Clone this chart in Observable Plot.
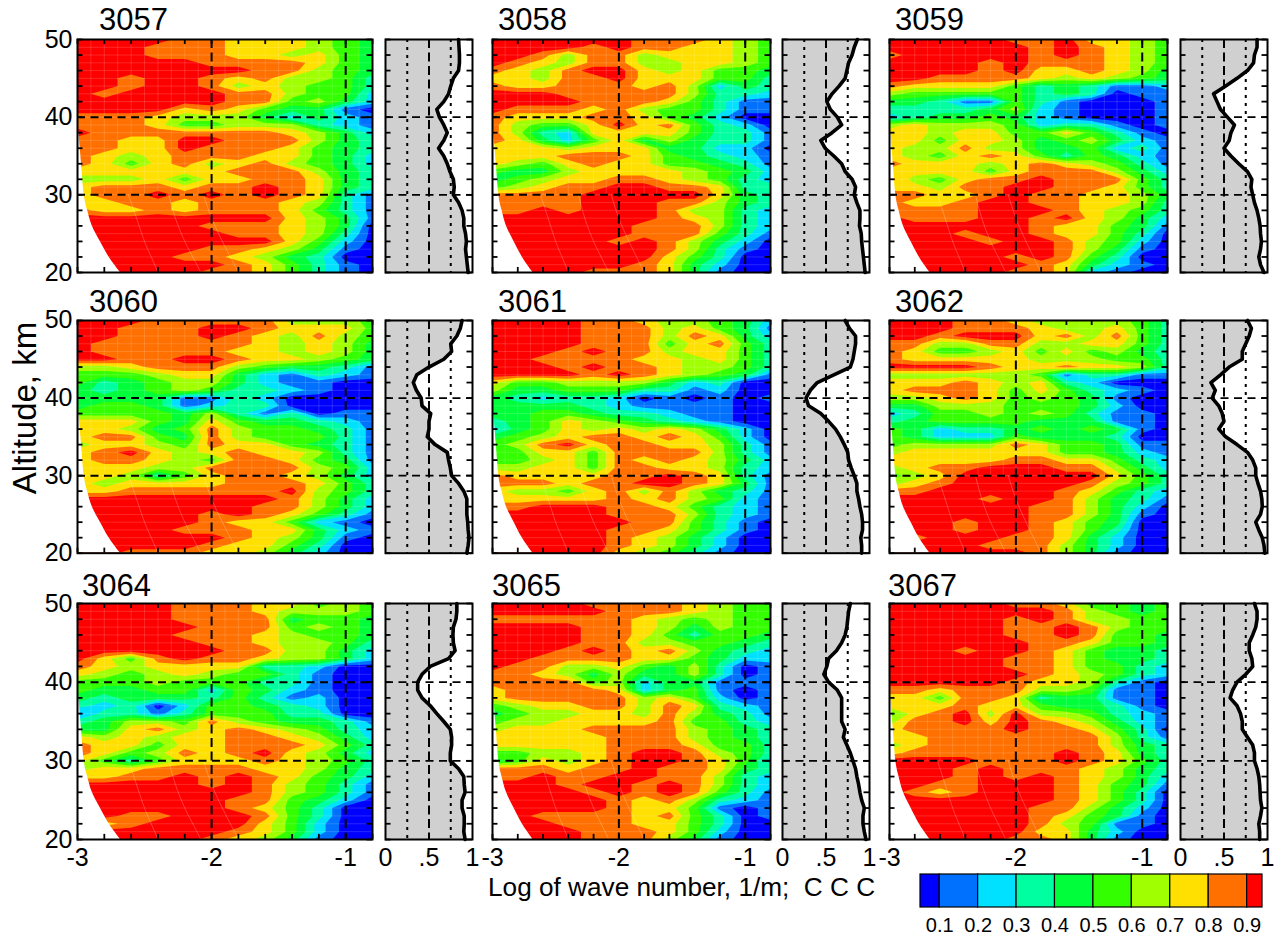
<!DOCTYPE html>
<html><head><meta charset="utf-8">
<script src="https://cdn.jsdelivr.net/npm/d3@7"></script>
<script src="https://cdn.jsdelivr.net/npm/@observablehq/plot@0.6"></script>
<style>
html,body{margin:0;padding:0;background:#fff;width:1276px;height:938px;overflow:hidden}
#root{position:relative;width:1276px;height:938px;font-family:"Liberation Sans",Arial,sans-serif;color:#000}
.box{position:absolute}
.title{position:absolute;font-size:31px;line-height:1;white-space:pre}
#ylab{position:absolute;font-size:33px;left:25px;top:408px;transform:translate(-50%,-50%) rotate(-90deg);white-space:pre}
#xlab{position:absolute;font-size:26.2px;left:488px;top:872px;white-space:pre}
</style></head><body><div id="root"></div>
<script>
// Band index per grid node (0 = below 0.1 ... 9 = above 0.9). Rows: 50 km down to 20 km, step 1.
// Columns: log wave number -3.0 ... -0.8, step 0.2.
const grid3057=["999988777654","999888777654","999888776754","999998888754","999999988654","998998786653","998998676553","989999886552","999999885642","999978754410","888766642421","888755666321","988888887642","887799888643","887798887543","876788877542","875786786542","777777888643","666757788743","788878898743","788989898731","778878887631","877878887531","999999997641","999998887640","999999887630","999999997520","999998876410","999988764300","999999875310","999998875310"];
const grid3058=["999999888765","999989887765","998688677765","987688667765","876899767554","776889777553","877888786243","999888886332","999988875311","988878655311","877788754200","865579785320","863277775331","874257464331","777677744220","777888754321","765787755431","544677776542","456778876532","567889988733","888899999743","888899988643","889899986632","999999987632","999999888632","999999888531","999998986420","999999986310","999999975300","999999874200","999988874100"];
const grid3059=["999998897765","999999898765","899999898765","999989888765","999989778764","998888767654","877775343112","655555343011","443115310001","333346210001","234454210001","676665233101","776775575310","775776456421","766866445231","765787535421","877767876531","777757888642","865788988853","776889988753","887789887764","877899887763","888899987653","988899897642","999999877541","999899877530","999989986520","999999986410","999998985300","999999874210","999998872100"];
const grid3060=["999888886665","998889987775","998889876865","988888876764","988888776764","998899877654","667888654431","555677421321","534566421100","434565332100","444411320000","455412330000","555546313011","777547544321","776458655431","788548655531","677658775431","789767877631","788765887541","777668888652","776357887642","767777888753","778888889653","999999998642","999999988642","999998987531","999998775210","999988877421","999999876410","999998775300","998887764200"];
const grid3061=["999988766542","999988867541","999988868742","999988857853","999898867753","998888776753","999898876653","999989876541","755666642300","644555331200","432332010101","444432111100","445543321100","345765432100","245767676420","456788787520","568978877631","557758888631","556758787642","667758877632","877778898731","888788998741","766578686431","777778786521","889998875321","999998886321","999999885310","999998875310","999998764200","999998764200","999997653100"];
const grid3062=["999887666653","999888766753","998999786853","886688667753","875567575643","877777666553","999987787763","666666513311","777876732000","788875753210","667875654100","446665554200","235565653110","345555444110","542334545410","542225444300","566668755411","677777755421","777778877532","678899988642","567999999753","678999998653","889999987532","999989986431","999999886420","999999886410","999899875400","999899875300","889998874200","999988864200","999999864100"];
const grid3064=["999988877565","999988876665","999988884554","999998885654","999988876554","999998876653","999999886642","975898876642","876777733200","765676553100","555655533100","544552542100","434443531200","323025543200","133135553300","346658654431","447867876532","767677887642","877577888753","875687897642","753577787653","677888877643","778898987542","999998986531","999999986531","999999885420","999999875300","998899985300","878999975200","999999875200","999998764100"];
const grid3065=["999988887655","999998887655","888888765655","999988764655","999988753554","999988665543","999898786432","998888775422","988667546301","887646446301","888856244111","788887245101","788888675201","567788687321","456677686431","566777785532","677788886543","777778886543","777778887553","556678998653","457678998752","888788988743","889889988632","999899898632","999989898531","999998786321","999998775101","998888785301","999888775300","999988875200","999988864100"];
const grid3067=["999998875545","999999986545","999998986655","999998898655","999998898554","999999887554","999899875443","999998875443","999998875532","999999876532","999998776310","887888665110","775887344110","777877544310","578969665321","688979876421","788889887530","778888888631","678888888643","788888898743","999988898753","999898887643","999898987642","998899987541","987899987530","999999987530","999999886420","999999875410","999999865110","999999774200","999998874100"];
const gridAltitudes=d3.range(50,19,-1);
const gridLogs=[-3,-2.8,-2.6,-2.4,-2.2,-2,-1.8,-1.6,-1.4,-1.2,-1,-0.8];

// Profile of the fraction (right-hand strips), 50 km down to 20 km, step 1.
const profileAltitudes=d3.range(50,19,-1);
const prof3057=[.84,.845,.85,.85,.84,.78,.75,.725,.67,.59,.62,.67,.71,.67,.61,.67,.71,.74,.78,.79,.78,.84,.88,.90,.90,.92,.93,.92,.93,.94,.95];
const prof3058=[.86,.825,.80,.76,.74,.72,.65,.57,.51,.55,.63,.68,.57,.44,.49,.59,.68,.72,.80,.84,.825,.855,.89,.89,.885,.905,.91,.92,.93,.94,.95];
const prof3059=[.88,.88,.85,.84,.77,.65,.52,.38,.42,.46,.54,.62,.58,.56,.50,.58,.67,.77,.82,.81,.83,.85,.88,.90,.915,.92,.93,.92,.90,.92,.96];
const prof3060=[.88,.86,.82,.75,.76,.67,.50,.36,.32,.355,.41,.42,.52,.50,.50,.48,.57,.71,.725,.745,.76,.84,.90,.935,.935,.935,.945,.95,.96,.95,.935];
const prof3061=[.72,.77,.84,.84,.825,.81,.78,.59,.40,.32,.27,.30,.44,.53,.61,.665,.71,.75,.76,.79,.825,.855,.855,.875,.89,.91,.92,.92,.90,.91,.91];
const prof3062=[.77,.815,.79,.75,.71,.71,.56,.46,.35,.40,.365,.44,.48,.50,.44,.52,.65,.77,.83,.865,.865,.89,.92,.935,.94,.92,.865,.90,.94,.96,.97];
const prof3064=[.82,.82,.81,.78,.775,.78,.80,.725,.515,.42,.37,.37,.42,.515,.59,.67,.745,.76,.76,.745,.745,.84,.90,.905,.915,.88,.88,.905,.905,.90,.915];
const prof3065=[.78,.76,.75,.74,.72,.68,.62,.53,.51,.475,.53,.63,.68,.68,.68,.68,.72,.70,.74,.78,.81,.84,.855,.875,.89,.91,.94,.925,.925,.94,.96];
const prof3067=[.85,.88,.88,.865,.83,.79,.79,.82,.83,.75,.65,.60,.57,.65,.69,.71,.71,.77,.83,.85,.85,.88,.90,.91,.915,.92,.935,.92,.90,.91,.91];

// White, no-data corner: left edge of the contours against altitude.
const edgeAltitudes=[20,22,24,26,28,30,34,38,40];
const edgeLogs=[-2.68,-2.765,-2.83,-2.89,-2.925,-2.95,-2.97,-2.99,-3];

// Faint curved grid seams below 30 km.
const arcAltitudes=[30,27,24,22,20];
const arcLogsA=[-2.62,-2.56,-2.5,-2.45,-2.4];
const arcLogsB=[-2.32,-2.27,-2.2,-2.14,-2.08];
const arcLogsC=[-2.06,-2,-1.92,-1.86,-1.8];

const bandColors=["#0000ff","#0070ff","#00e0ff","#00ffa0","#00ff3a","#33ff00","#a0ff00","#ffe000","#ff7000","#ff0000"];
const bandLimits=[.1,.2,.3,.4,.5,.6,.7,.8,.9];
const contourLevels=[0,.1,.2,.3,.4,.5,.6,.7,.8,.9];
const legendLow=[.05,.1,.2,.3,.4,.5,.6,.7,.8,.9];
const legendHigh=[.1,.2,.3,.4,.5,.6,.7,.8,.9,.94];

const logTicks=[-3,-2.8,-2.6,-2.4,-2.2,-2,-1.8,-1.6,-1.4,-1.2,-1,-0.8];
const altTicks=d3.range(20,51,2);
const seamAlts=d3.range(20,51,1);
const seamLogs=d3.range(-2.9,-0.8,0.1);

const panels=[
 {id:"3057",grid:grid3057,prof:prof3057,col:0,row:0,tx:99,ty:4},
 {id:"3058",grid:grid3058,prof:prof3058,col:1,row:0,tx:498,ty:4},
 {id:"3059",grid:grid3059,prof:prof3059,col:2,row:0,tx:895,ty:4},
 {id:"3060",grid:grid3060,prof:prof3060,col:0,row:1,tx:89,ty:286},
 {id:"3061",grid:grid3061,prof:prof3061,col:1,row:1,tx:498,ty:286},
 {id:"3062",grid:grid3062,prof:prof3062,col:2,row:1,tx:895,ty:286},
 {id:"3064",grid:grid3064,prof:prof3064,col:0,row:2,tx:82,ty:570},
 {id:"3065",grid:grid3065,prof:prof3065,col:1,row:2,tx:492,ty:570},
 {id:"3067",grid:grid3067,prof:prof3067,col:2,row:2,tx:888,ty:570}
];
const mainX=[[77,372],[492,770],[889,1167]];
const profX=[[385,472],[782,869],[1180,1267]];
const rowY=[[38.5,271.5],[320,552.7],[603.3,839.3]];
const M={left:45,right:8,top:6,bottom:42};
const FONT='"Liberation Sans",Arial,sans-serif';
const root=document.getElementById("root");
function place(svg,x0,y0){
  const d=document.createElement("div");d.className="box";
  d.style.left=(x0-M.left)+"px";d.style.top=(y0-M.top)+"px";
  d.appendChild(svg);root.appendChild(d);
}
const baseStyle={background:"transparent",overflow:"visible",fontFamily:FONT,maxWidth:"none"};
const noFmt=d=>String(d);

function framePlot(w,h,x,marks){
  return Plot.plot({width:w+M.left+M.right,height:h+M.top+M.bottom,
    marginLeft:M.left,marginRight:M.right,marginTop:M.top,marginBottom:M.bottom,
    style:baseStyle,x,y:{domain:[20,50],axis:null},
    color:{type:"threshold",domain:bandLimits,range:bandColors},marks});
}
// Inward ticks, as short rules along each edge of the frame.
const tickInk={stroke:"#000",strokeWidth:1.8};
function sideTicks(xLo,xHi,frac){
  const d=(xHi-xLo)*frac;
  return [Plot.ruleY(altTicks,{x1:()=>xLo,x2:()=>xLo+d,...tickInk}),
          Plot.ruleY(altTicks,{x1:()=>xHi-d,x2:()=>xHi,...tickInk})];
}
function edgeTicks(){
  return [Plot.ruleX(logTicks,{y1:()=>20,y2:()=>20.65,...tickInk}),
          Plot.ruleX(logTicks,{y1:()=>49.35,y2:()=>50,...tickInk})];
}
function arc(logs){
  return Plot.line(arcAltitudes,{x:(d,i)=>logs[i],y:d=>d,stroke:"#fff",strokeOpacity:.3,strokeWidth:.8,curve:"natural"});
}

for(const p of panels){
  const [x0,x1]=mainX[p.col],[y0,y1]=rowY[p.row];
  const values=p.grid.flatMap(r=>Array.from(r.padEnd(gridLogs.length,r.at(-1)).slice(0,gridLogs.length),c=>(+c+.5)/10));
  const marks=[
    Plot.contour(values,{width:gridLogs.length,height:gridAltitudes.length,x1:-3.1,x2:-0.7,y1:50.5,y2:19.5,
      value:d=>d,fill:"value",thresholds:contourLevels,clip:true,stroke:"none",smooth:true}),
    Plot.ruleY(seamAlts,{stroke:"#fff",strokeOpacity:.22,strokeWidth:.7}),
    Plot.ruleX(seamLogs,{y1:30,y2:50,stroke:"#fff",strokeOpacity:.22,strokeWidth:.7}),
    arc(arcLogsA),arc(arcLogsB),arc(arcLogsC),
    Plot.areaX(edgeAltitudes,{x1:()=>-3,x2:(d,i)=>edgeLogs[i],y:d=>d,fill:"#fff",curve:"natural",clip:true}),
    Plot.ruleX([-2,-1],{stroke:"#000",strokeWidth:2,strokeDasharray:"9,4.5"}),
    Plot.ruleY([30,40],{stroke:"#000",strokeWidth:2,strokeDasharray:"8,5.5"}),
    ...edgeTicks(),
    ...sideTicks(-3,-0.8,5.5/(x1-x0)),
    Plot.frame({stroke:"#000",strokeWidth:2})
  ];
  if(p.col===0) marks.push(Plot.axisY({anchor:"left",ticks:[20,30,40,50],tickSize:0,tickPadding:5,fontSize:25,label:null,tickFormat:noFmt,fill:"#000"}));
  if(p.row===2) marks.push(Plot.axisX({anchor:"bottom",ticks:[-3,-2,-1],tickSize:0,tickPadding:9,fontSize:25,label:null,tickFormat:noFmt,fill:"#000"}));
  place(framePlot(x1-x0,y1-y0,{domain:[-3,-0.8],axis:null},marks),x0,y0);

  const [a0,a1]=profX[p.col];
  const rows=profileAltitudes.map((a,i)=>({a,v:p.prof[i]}));
  const pm=[
    Plot.areaX(rows,{x1:()=>0,x2:"v",y:"a",fill:"#d0d0d0"}),
    Plot.ruleX([.25,.75],{stroke:"#000",strokeWidth:2,strokeDasharray:"3,5"}),
    Plot.ruleX([.5],{stroke:"#000",strokeWidth:2,strokeDasharray:"9,4.5"}),
    Plot.ruleY([30,40],{stroke:"#000",strokeWidth:1.8,strokeDasharray:"8,5.5"}),
    ...sideTicks(0,1,5.5/(a1-a0)),
    Plot.lineX(rows,{x:"v",y:"a",stroke:"#000",strokeWidth:3.6,strokeLinejoin:"round"}),
    Plot.frame({stroke:"#000",strokeWidth:2})
  ];
  if(p.row===2) pm.push(Plot.axisX({anchor:"bottom",ticks:[0,.5,1],tickSize:0,tickPadding:9,fontSize:25,label:null,tickFormat:d=>d===0?"0":d===1?"1":".5",fill:"#000"}));
  place(framePlot(a1-a0,y1-y0,{domain:[0,1],axis:null},pm),a0,y0);

  const t=document.createElement("div");t.className="title";t.textContent=p.id;
  t.style.left=p.tx+"px";t.style.top=p.ty+"px";root.appendChild(t);
}

// Colour key
const key=Plot.plot({width:342+M.left+M.right,height:33+M.top+M.bottom,
  marginLeft:M.left,marginRight:M.right,marginTop:M.top,marginBottom:M.bottom,style:baseStyle,
  x:{domain:[.05,.94],axis:null},y:{domain:[0,1],axis:null},
  color:{type:"threshold",domain:bandLimits,range:bandColors},
  marks:[
    Plot.rectY(legendLow,{x1:d=>d,x2:(d,i)=>legendHigh[i],y1:()=>0,y2:()=>1,fill:d=>d,stroke:"#000",strokeWidth:1.2,inset:0}),
    Plot.axisX({anchor:"bottom",ticks:bandLimits,tickSize:0,tickPadding:10,fontSize:20,label:null,tickFormat:d3.format(".1f"),fill:"#000"})
  ]});
place(key,920,874);

const yl=document.createElement("div");yl.id="ylab";yl.textContent="Altitude, km";root.appendChild(yl);
const xl=document.createElement("div");xl.id="xlab";xl.textContent="Log of wave number, 1/m;  C C C";root.appendChild(xl);
</script></body></html>
